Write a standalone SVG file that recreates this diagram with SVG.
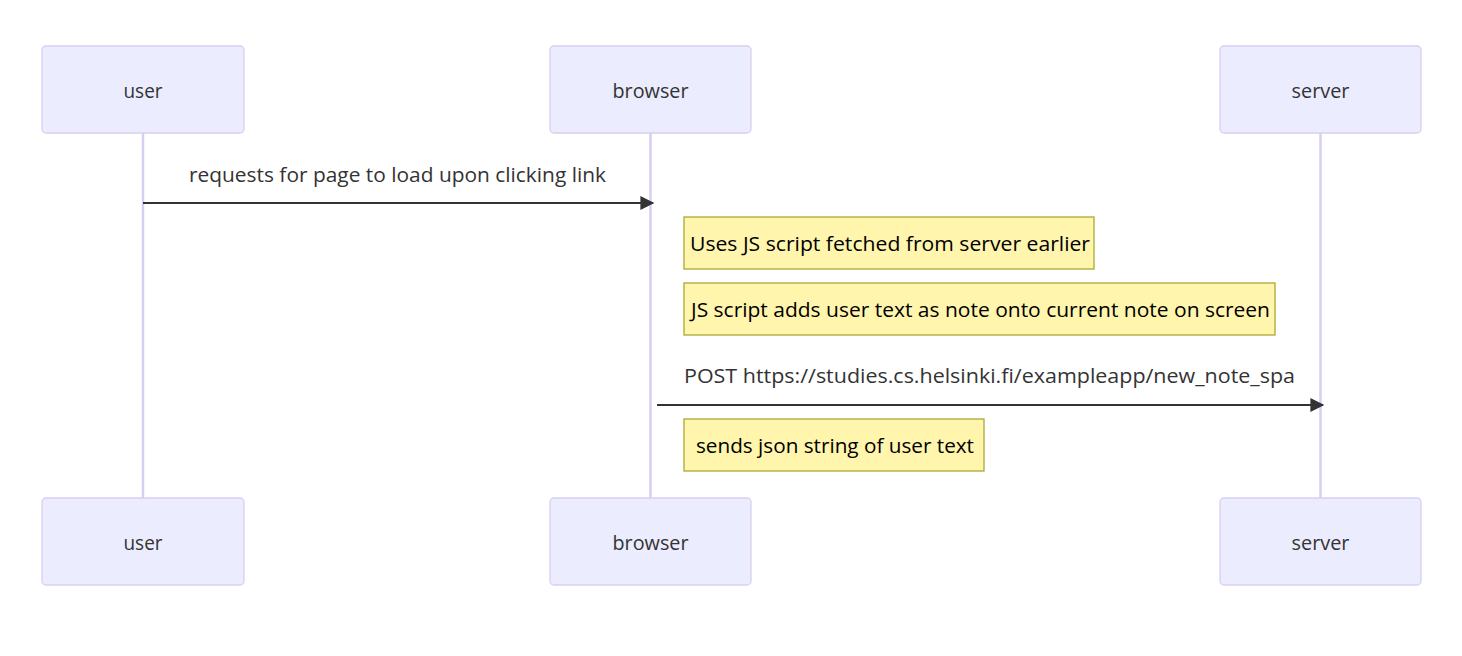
<svg xmlns="http://www.w3.org/2000/svg" width="1462" height="656" viewBox="0 0 1462 656">
<style>
.actor{fill:#ececff;stroke:#d9cef2;stroke-width:1.3}
.life{stroke:#d9cef2;stroke-width:2.5}
.note{fill:#fff5ad;stroke:#aaaa33;stroke-width:1.3}
.t{font-family:"Open Sans","Liberation Sans",sans-serif;font-size:20px;fill:#333;dominant-baseline:central}
.nt{fill:#000}
.c{text-anchor:middle}
.msg{stroke:#333;stroke-width:2;fill:none}
</style>
<defs>
<marker id="arrow" viewBox="0 0 10 10" refX="9" refY="5" markerUnits="userSpaceOnUse" markerWidth="15" markerHeight="14" orient="auto">
<path d="M0,0 L10,5 L0,10 z" fill="#333"/>
</marker>
</defs>
<rect width="1462" height="656" fill="#fff"/>
<g id="lifelines">
<line class="life" x1="143" y1="133" x2="143" y2="498"/>
<line class="life" x1="650.5" y1="133" x2="650.5" y2="498"/>
<line class="life" x1="1320.5" y1="133" x2="1320.5" y2="498"/>
</g>
<g id="user-top"><rect class="actor" x="42" y="46" width="202" height="87" rx="4"/><text class="t c" x="143" y="90" textLength="39" lengthAdjust="spacingAndGlyphs">user</text></g>
<g id="browser-top"><rect class="actor" x="550" y="46" width="201" height="87" rx="4"/><text class="t c" x="650.5" y="90" textLength="76" lengthAdjust="spacingAndGlyphs">browser</text></g>
<g id="server-top"><rect class="actor" x="1220" y="46" width="201" height="87" rx="4"/><text class="t c" x="1320.5" y="90" textLength="58" lengthAdjust="spacingAndGlyphs">server</text></g>
<g id="user-bottom"><rect class="actor" x="42" y="498" width="202" height="87" rx="4"/><text class="t c" x="143" y="542" textLength="39" lengthAdjust="spacingAndGlyphs">user</text></g>
<g id="browser-bottom"><rect class="actor" x="550" y="498" width="201" height="87" rx="4"/><text class="t c" x="650.5" y="542" textLength="76" lengthAdjust="spacingAndGlyphs">browser</text></g>
<g id="server-bottom"><rect class="actor" x="1220" y="498" width="201" height="87" rx="4"/><text class="t c" x="1320.5" y="542" textLength="58" lengthAdjust="spacingAndGlyphs">server</text></g>
<g id="connectors">
<line class="msg" x1="143" y1="203" x2="653" y2="203" marker-end="url(#arrow)"/>
<text class="t c" x="397.5" y="174" textLength="417" lengthAdjust="spacingAndGlyphs">requests for page to load upon clicking link</text>
<line class="msg" x1="657" y1="405" x2="1323" y2="405" marker-end="url(#arrow)"/>
<text class="t c" x="989.5" y="375" textLength="611" lengthAdjust="spacingAndGlyphs">POST https://studies.cs.helsinki.fi/exampleapp/new_note_spa</text>
</g>
<g id="note1"><rect class="note" x="684" y="217" width="410" height="52"/><text class="t nt c" x="890" y="243" textLength="400" lengthAdjust="spacingAndGlyphs">Uses JS script fetched from server earlier</text></g>
<g id="note2"><rect class="note" x="684" y="283" width="591" height="52"/><text class="t nt c" x="980.5" y="309" textLength="579" lengthAdjust="spacingAndGlyphs">JS script adds user text as note onto current note on screen</text></g>
<g id="note3"><rect class="note" x="684" y="419" width="300" height="52"/><text class="t nt c" x="835" y="445" textLength="278" lengthAdjust="spacingAndGlyphs">sends json string of user text</text></g>
</svg>
